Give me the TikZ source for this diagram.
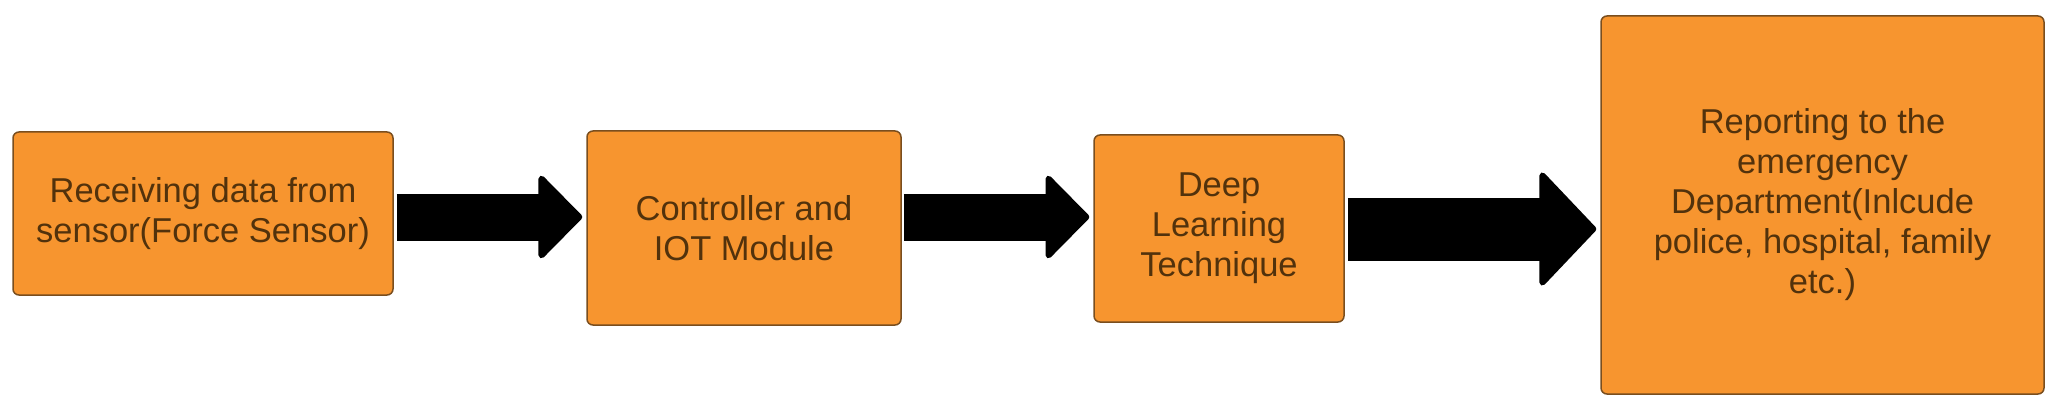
\documentclass[tikz,border=0pt]{standalone}
\usepackage{fontspec}
\setmainfont{Liberation Sans}
\usetikzlibrary{arrows.meta}
\definecolor{boxfill}{HTML}{F7952F}
\definecolor{boxedge}{HTML}{7A4E1E}
\definecolor{boxtext}{HTML}{52320C}
\begin{document}
\begin{tikzpicture}[
  x=1pt, y=1pt,
  line join=miter,
  stage/.style={draw=boxedge, fill=boxfill, line width=1.5pt, rounded corners=6pt,
    inner sep=0pt, align=center, text=boxtext,
    font=\fontsize{34.5pt}{40pt}\selectfont},
  flow/.style={line width=47pt, -{Triangle[length=45pt, width=90pt, line width=6pt, round]}},
  bigflow/.style={line width=63pt, -{Triangle[length=58pt, width=121pt, line width=6pt, round]}}
]
  \useasboundingbox (0,0) rectangle (2061,405);
  % ---- boxes ----
  \node[stage, minimum width=380pt, minimum height=163pt] (recv) at (203,191.5)
    {Receiving data from\\sensor(Force Sensor)};
  \node[stage, minimum width=314pt, minimum height=194pt] (ctrl) at (744,177)
    {Controller and\\IOT Module};
  \node[stage, minimum width=250pt, minimum height=187pt] (deep) at (1219,176.5)
    {Deep\\Learning\\Technique};
  \node[stage, minimum width=443pt, minimum height=378pt] (report) at (1822.5,200)
    {Reporting to the\\emergency\\Department(Inlcude\\police, hospital, family\\etc.)};
  % ---- arrows (thick block arrows between the boxes) ----
  \draw[flow] ([shift={(3,-3.5)}]recv.east) -- ([shift={(-4,11)}]ctrl.west);
  \draw[flow] ([shift={(2,11)}]ctrl.east) -- ([shift={(-4,11.5)}]deep.west);
  \draw[bigflow] ([shift={(3,-0.5)}]deep.east) -- ([shift={(-4,-24)}]report.west);
\end{tikzpicture}
\end{document}
